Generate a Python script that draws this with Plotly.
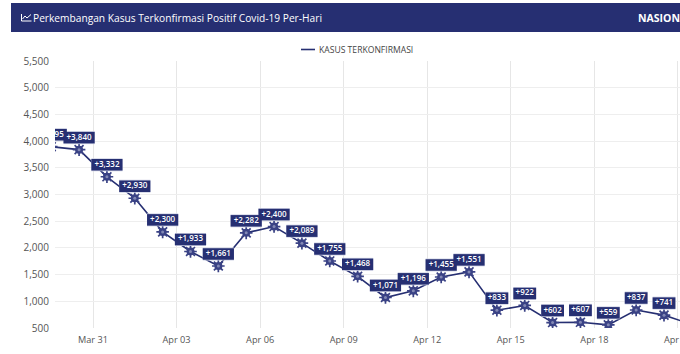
import plotly.graph_objects as go
import pandas as pd

dates = ["2022-03-29","2022-03-30","2022-03-31","2022-04-01","2022-04-02","2022-04-03","2022-04-04","2022-04-05",
         "2022-04-06","2022-04-07","2022-04-08","2022-04-09","2022-04-10","2022-04-11","2022-04-12","2022-04-13",
         "2022-04-14","2022-04-15","2022-04-16","2022-04-17","2022-04-18","2022-04-19","2022-04-20","2022-04-21"]
cases = [3895,3840,3332,2930,2300,1933,1661,2282,2400,2089,1755,1468,1071,1196,1455,1551,833,922,602,607,559,837,741,565]
series_name = "KASUS TERKONFIRMASI"
y_ticks = [500,1000,1500,2000,2500,3000,3500,4000,4500,5000,5500]

NAVY = "#262f72"
FONT = "Open Sans, sans-serif"
# The page is wider than the window, so the right edge is cropped as in the reference.
W, H = 720, 354
L, R, T, B = 55, 720, 61, 328

day_ms = 86400000
mid = pd.to_datetime(dates) + pd.Timedelta(hours=12)
labels = [f"+{v:,}" for v in cases]

px_per_unit = (B - T) / 5000
label_y = [v + 12 / px_per_unit for v in cases]
half_w = [pd.Timedelta(days=(3 + 2.1 * len(s)) / 27.85) for s in labels]
box_x, box_y = [], []
for m, y, hw in zip(mid, label_y, half_w):
    box_x += [m - hw, m + hw, None]
    box_y += [y, y, None]

px = lambda x: (x - L) / (R - L)
py = lambda y: (B - y) / (B - T)

fig = go.Figure()
fig.add_trace(go.Scatter(x=mid, y=cases, mode="lines", name=series_name, showlegend=False,
                         line=dict(color=NAVY, width=1.6)))
fig.add_trace(go.Scatter(x=mid, y=cases, mode="markers", showlegend=False, hoverinfo="skip",
                         marker=dict(symbol="asterisk-open", size=10.5, color="#3a4285",
                                     line=dict(color="#3a4285", width=1.7))))
fig.add_trace(go.Scatter(x=mid, y=cases, mode="markers", showlegend=False, hoverinfo="skip",
                         marker=dict(symbol="circle", size=8, color="#3a4285")))
fig.add_trace(go.Scatter(x=mid, y=cases, mode="markers", showlegend=False, hoverinfo="skip",
                         marker=dict(symbol="circle", size=3, color="#8288b4")))
fig.add_trace(go.Scatter(x=box_x, y=box_y, mode="lines", showlegend=False, hoverinfo="skip",
                         line=dict(color="#cfd2e4", width=13)))
fig.add_trace(go.Scatter(x=box_x, y=box_y, mode="lines", showlegend=False, hoverinfo="skip",
                         line=dict(color=NAVY, width=11.5)))
fig.add_trace(go.Scatter(x=mid, y=label_y, mode="text", text=labels, showlegend=False, hoverinfo="skip",
                         textposition="middle center",
                         textfont=dict(family=FONT, size=8, color="white", weight=600)))

fig.update_layout(
    width=W, height=H, margin=dict(l=L, r=W - R, t=T, b=H - B),
    paper_bgcolor="white", plot_bgcolor="white",
    font=dict(family=FONT, size=10, color="#555555"),
    showlegend=False,
    xaxis=dict(type="date", range=["2022-03-29 15:15", "2022-04-22 12:15"],
               tick0="2022-03-31", dtick=3 * day_ms, tickformat="%b %d",
               showgrid=True, gridcolor="#e6e6e6", gridwidth=1, zeroline=False, showline=False,
               ticks="", ticklabelstandoff=5, tickfont=dict(size=9.2)),
    yaxis=dict(range=[500, 5500], tickvals=y_ticks, tickformat=",",
               showgrid=True, gridcolor="#eeeeee", gridwidth=1, zeroline=False, showline=False,
               ticks="", ticklabelstandoff=5),
    shapes=[
        dict(type="rect", xref="paper", yref="paper", layer="above",
             x0=px(11), x1=1, y0=py(32), y1=py(3), fillcolor=NAVY, line_width=0),
        dict(type="path", xref="paper", yref="paper", layer="above",
             path=f"M {px(21.5)} {py(14)} L {px(21.5)} {py(21)} L {px(31.5)} {py(21)} "
                  f"M {px(22.5)} {py(19)} L {px(25)} {py(16)} L {px(27)} {py(18)} L {px(31)} {py(14.5)}",
             line=dict(color="white", width=1)),
        dict(type="line", xref="paper", yref="paper", layer="above",
             x0=px(301), x1=px(315), y0=py(49.5), y1=py(49.5), line=dict(color=NAVY, width=1.6)),
    ],
    annotations=[
        dict(xref="paper", yref="paper", x=px(33), y=py(18), xanchor="left", yanchor="middle",
             text="Perkembangan Kasus Terkonfirmasi Positif Covid-19 Per-Hari", showarrow=False, xshift=-2,
             font=dict(family=FONT, size=10.2, color="white", weight=500)),
        dict(xref="paper", yref="paper", x=px(636), y=py(18), xanchor="left", yanchor="middle",
             text="<b>NASIONAL</b>", showarrow=False,
             font=dict(family=FONT, size=10.5, color="white")),
        dict(xref="paper", yref="paper", x=px(316.5), y=py(49.5), xanchor="left", yanchor="middle",
             text=series_name, showarrow=False,
             font=dict(family=FONT, size=8.6, color="#444444")),
    ],
)
fig.write_html("out.html", config=dict(displayModeBar=False),
               post_script="document.body.style.margin='0';document.body.style.overflow='hidden';")
